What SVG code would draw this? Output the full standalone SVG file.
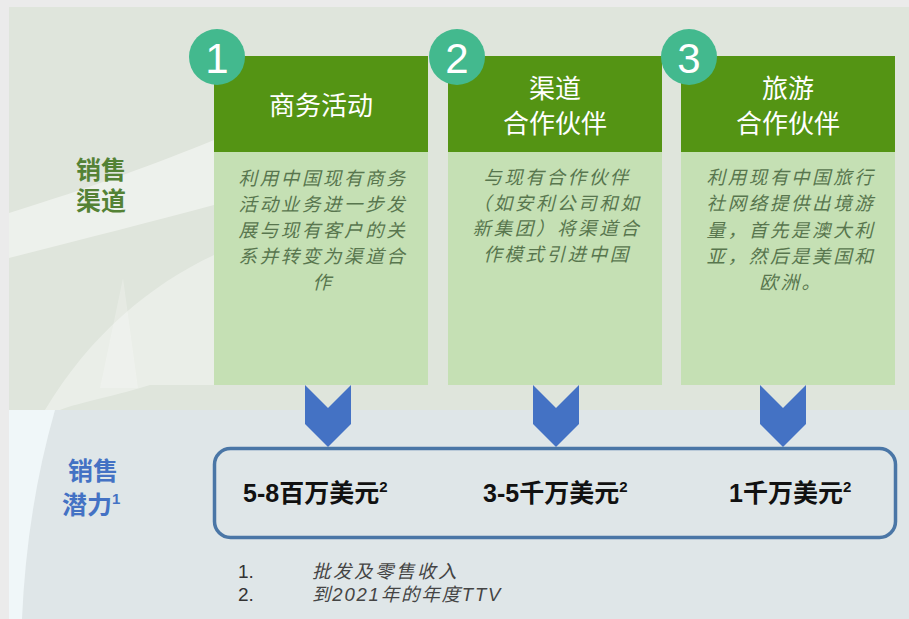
<svg xmlns="http://www.w3.org/2000/svg" width="909" height="619" viewBox="0 0 909 619">
  <style>
    .cjk { font-family: "Liberation Sans", "Noto Sans CJK SC", sans-serif; }
    .head { font-family: "Noto Sans CJK SC", sans-serif; font-size: 26px; fill: #ffffff; text-anchor: middle; }
    .body { font-family: "Noto Sans CJK SC", sans-serif; font-size: 18.5px; letter-spacing: 2.6px; font-style: italic; fill: #58764e; text-anchor: middle; }
    .num { font-family: "Liberation Sans", sans-serif; font-size: 42px; fill: #ffffff; text-anchor: middle; }
    .hdr { fill: #549414; }
    .bd { fill: #c5e0b4; }
    .circ { fill: #43b98e; }
    .arrow { fill: #4472c4; }
    .val { font-family: "Liberation Sans", "Noto Sans CJK SC", sans-serif; font-size: 25px; font-weight: bold; fill: #111111; }
    .sup { font-size: 15px; }
    .foot { font-family: "Liberation Sans", "Noto Sans CJK SC", sans-serif; font-size: 19px; fill: #333333; }
    .footi { font-family: "Liberation Sans", "Noto Sans CJK SC", sans-serif; font-size: 18.5px; font-style: italic; fill: #444444; }
  </style>

  <!-- background -->
  <rect x="0" y="0" width="909" height="619" fill="#ebebeb"/>
  <rect x="9" y="7" width="900" height="403" fill="#dfe5dc"/>
  <rect x="9" y="410" width="900" height="209" fill="#dfe6e8"/>
  <!-- faint decorative swooshes -->
  <path d="M9,213 C90,188 160,162 214,140 L214,205 C150,222 80,240 9,258 Z" fill="#ffffff" opacity="0.45"/>
  <path d="M45,410 C90,335 150,285 214,255 L214,385 L150,385 C120,395 80,402 60,410 Z" fill="#ffffff" opacity="0.35"/>
  <path d="M100,388 L123,278 L138,388 Z" fill="#ffffff" opacity="0.22"/>
  <path d="M9,410 L55,410 C35,480 25,550 22,619 L9,619 Z" fill="#f0f7f9"/>

  <!-- left labels -->
  <g id="label-channels">
    <text class="cjk" x="101" y="179" font-size="25" font-weight="bold" fill="#548235" text-anchor="middle">销售</text>
    <text class="cjk" x="101" y="210" font-size="25" font-weight="bold" fill="#548235" text-anchor="middle">渠道</text>
  </g>
  <g id="label-potential">
    <text class="cjk" x="93" y="480" font-size="25" font-weight="bold" fill="#4472c4" text-anchor="middle">销售</text>
    <text class="cjk" x="62" y="514" font-size="25" font-weight="bold" fill="#4472c4">潜力<tspan font-size="15" dy="-10">1</tspan></text>
  </g>

  <!-- channel 1 -->
  <g id="channel-1">
    <rect class="bd" x="214" y="152" width="214" height="233"/>
    <rect class="hdr" x="214" y="56" width="214" height="96"/>
    <text class="head" x="321" y="115">商务活动</text>
    <circle class="circ" cx="217" cy="57" r="28"/>
    <text class="num" x="217" y="73">1</text>
    <text class="body" x="323" y="185">利用中国现有商务</text>
    <text class="body" x="323" y="211">活动业务进一步发</text>
    <text class="body" x="323" y="237">展与现有客户的关</text>
    <text class="body" x="323" y="263">系并转变为渠道合</text>
    <text class="body" x="323" y="289">作</text>
  </g>

  <!-- channel 2 -->
  <g id="channel-2">
    <rect class="bd" x="448" y="152" width="214" height="233"/>
    <rect class="hdr" x="448" y="56" width="214" height="96"/>
    <text class="head" x="555" y="98">渠道</text>
    <text class="head" x="555" y="133">合作伙伴</text>
    <circle class="circ" cx="457" cy="57" r="28"/>
    <text class="num" x="457" y="73">2</text>
    <text class="body" x="557" y="184">与现有合作伙伴</text>
    <text class="body" x="557" y="210">（如安利公司和如</text>
    <text class="body" x="557" y="235">新集团）将渠道合</text>
    <text class="body" x="557" y="261">作模式引进中国</text>
  </g>

  <!-- channel 3 -->
  <g id="channel-3">
    <rect class="bd" x="681" y="152" width="214" height="233"/>
    <rect class="hdr" x="681" y="56" width="214" height="96"/>
    <text class="head" x="788" y="98">旅游</text>
    <text class="head" x="788" y="133">合作伙伴</text>
    <circle class="circ" cx="689" cy="57" r="28"/>
    <text class="num" x="689" y="73">3</text>
    <text class="body" x="791" y="184">利用现有中国旅行</text>
    <text class="body" x="791" y="210">社网络提供出境游</text>
    <text class="body" x="791" y="237">量，首先是澳大利</text>
    <text class="body" x="791" y="263">亚，然后是美国和</text>
    <text class="body" x="791" y="289">欧洲。</text>
  </g>

  <!-- connectors (chevron arrows) -->
  <g id="connectors">
    <path class="arrow" d="M305,385 L328,408 L351,385 L351,424 L328,447 L305,424 Z"/>
    <path class="arrow" d="M533,385 L556,408 L579,385 L579,424 L556,447 L533,424 Z"/>
    <path class="arrow" d="M760,385 L783,408 L806,385 L806,424 L783,447 L760,424 Z"/>
  </g>

  <!-- potential box -->
  <g id="potential">
    <rect x="214.5" y="448.5" width="681" height="89" rx="16" ry="16" fill="none" stroke="#4a76a6" stroke-width="3.5"/>
    <text class="val" x="243" y="502">5-8百万美元<tspan class="sup" dy="-10">2</tspan></text>
    <text class="val" x="483" y="502">3-5千万美元<tspan class="sup" dy="-10">2</tspan></text>
    <text class="val" x="729" y="502">1千万美元<tspan class="sup" dy="-10">2</tspan></text>
  </g>

  <!-- footnotes -->
  <g id="footnotes">
    <text class="foot" x="238" y="578">1.</text>
    <text class="footi" x="312" y="578" style="letter-spacing:2.5px">批发及零售收入</text>
    <text class="foot" x="238" y="601">2.</text>
    <text class="footi" x="312" y="601" style="letter-spacing:1.8px">到2021年的年度TTV</text>
  </g>
</svg>
